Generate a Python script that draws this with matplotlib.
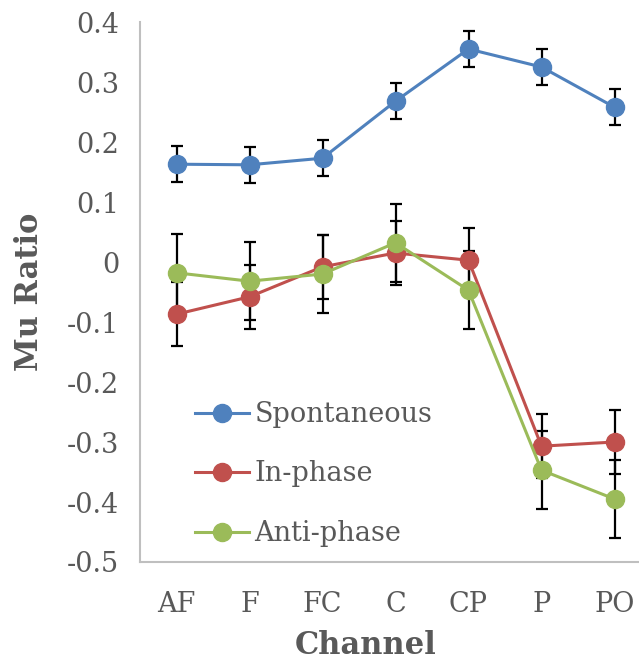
import numpy as np
import matplotlib.pyplot as plt

# Channel groups along the x axis
channels = ["AF", "F", "FC", "C", "CP", "P", "PO"]

# Mean mu ratio per condition
spontaneous = [0.163, 0.162, 0.173, 0.268, 0.355, 0.325, 0.258]
in_phase = [-0.087, -0.058, -0.008, 0.015, 0.003, -0.307, -0.300]
anti_phase = [-0.018, -0.032, -0.020, 0.032, -0.047, -0.347, -0.395]

# Error bar half-widths
spontaneous_err = [0.03, 0.03, 0.03, 0.03, 0.03, 0.03, 0.03]
in_phase_err = [0.053, 0.053, 0.053, 0.053, 0.053, 0.053, 0.053]
anti_phase_err = [0.065, 0.065, 0.065, 0.065, 0.065, 0.065, 0.065]

yticks = [0.4, 0.3, 0.2, 0.1, 0, -0.1, -0.2, -0.3, -0.4, -0.5]
ytick_labels = ["0.4", "0.3", "0.2", "0.1", "0", "-0.1", "-0.2", "-0.3", "-0.4", "-0.5"]

text_color = "#595959"
plt.rcParams["font.family"] = ["DejaVu Serif"]

W, H = 639, 665
fig = plt.figure(figsize=(W / 100, H / 100), dpi=100)
# plot area: left spine at x=140, top at y=22, bottom at y=562 (pixels)
ax = fig.add_axes([140 / W, 1 - 562 / H, 511 / W, 540 / H])

x = np.arange(len(channels))
series = [
    ("Spontaneous", spontaneous, spontaneous_err, "#4F81BD"),
    ("In-phase", in_phase, in_phase_err, "#C0504D"),
    ("Anti-phase", anti_phase, anti_phase_err, "#9BBB59"),
]

for name, vals, errs, color in series:
    ax.errorbar(x, vals, yerr=errs, fmt="none", ecolor="black",
                elinewidth=1.6, capsize=4.5, capthick=1.6, zorder=2)

for name, vals, errs, color in series:
    ax.plot(x, vals, "-o", color=color, linewidth=2.2, markersize=13,
            label=name, zorder=3)

ax.set_xlim(-0.5, len(channels) - 0.5)
ax.set_ylim(-0.5, 0.4)
ax.set_xticks(x)
ax.set_xticklabels(channels)
ax.set_yticks(yticks)
ax.set_yticklabels(ytick_labels)
ax.tick_params(axis="both", length=0, labelsize=19.5, colors=text_color)
ax.tick_params(axis="x", pad=21)
ax.tick_params(axis="y", pad=15)

for side in ["top", "right"]:
    ax.spines[side].set_visible(False)
for side in ["left", "bottom"]:
    ax.spines[side].set_color("#BFBFBF")
    ax.spines[side].set_linewidth(1.5)

fig.text(30 / W, 1 - 292 / H, "Mu Ratio", rotation=90, ha="center", va="center",
         fontsize=22, fontweight="bold", color=text_color)
fig.text(366 / W, 1 - 646 / H, "Channel", ha="center", va="center",
         fontsize=22, fontweight="bold", color=text_color)

leg = ax.legend(loc="upper left", bbox_to_anchor=(195 / W, 1 - 401 / H),
                bbox_transform=fig.transFigure, frameon=False, fontsize=19.5,
                labelspacing=1.2, handlelength=2.0, handletextpad=0.2,
                borderpad=0, borderaxespad=0)
for t in leg.get_texts():
    t.set_color(text_color)

fig.savefig("out.png", dpi=100)
